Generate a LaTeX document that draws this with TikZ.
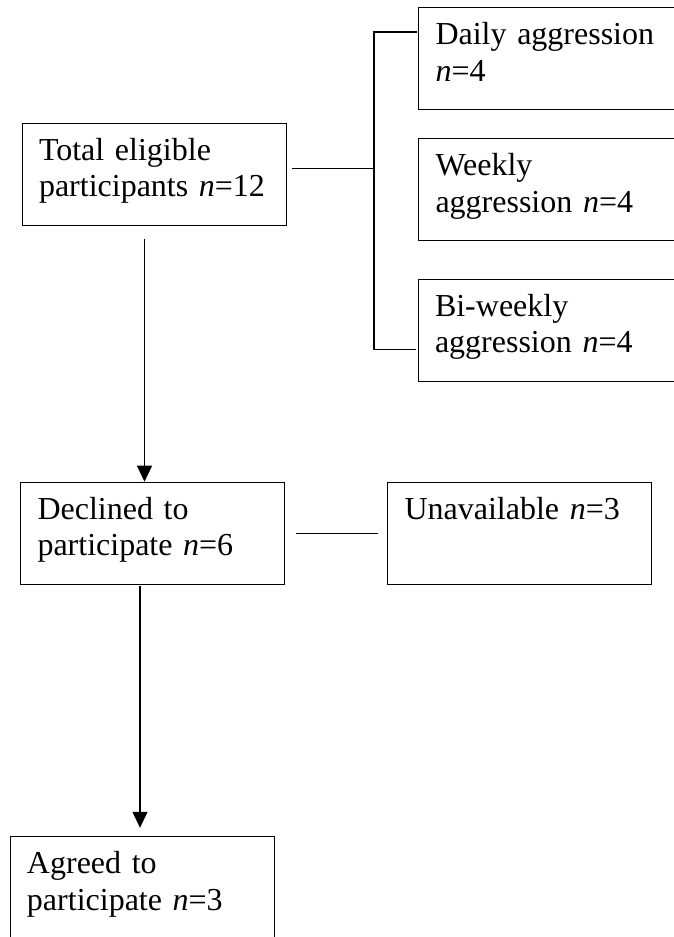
\documentclass[tikz,border=0pt]{standalone}
\usepackage{fontspec}
\setmainfont{Liberation Serif}
\usetikzlibrary{arrows.meta}
\tikzset{
  box/.style={draw, line width=1pt, anchor=north west, text width=230pt,
    align=left, inner xsep=17pt, inner ysep=15pt, text height=22pt,
    text depth=50pt, font=\fontsize{32}{36.7}\selectfont},
  link/.style={line width=1.3pt},
  arrow/.style={link, -{Triangle[length=16pt,width=15pt]}}
}
\begin{document}
\begin{tikzpicture}[x=1pt, y=-1pt]
  \useasboundingbox (0,0) rectangle (674,937);
  \node[box] (total) at (21.5,122.7) {Total eligible\\participants \textit{n}=12};
  \node[box] (daily) at (418,7.3) {Daily aggression\\\textit{n}=4};
  \node[box] (weekly) at (418,138.3) {Weekly\\aggression \textit{n}=4};
  \node[box] (biweekly) at (417.5,278.7) {Bi-weekly\\aggression \textit{n}=4};
  \node[box] (declined) at (20,481.7) {Declined to\\participate \textit{n}=6};
  \node[box] (unavail) at (387,482.3) {Unavailable \textit{n}=3};
  \node[box] (agreed) at (9.5,836.3) {Agreed to\\participate \textit{n}=3};
  \coordinate (fork) at (374,168.3);
  \coordinate (forktop) at (374,32);
  \coordinate (forkbot) at (374,349.3);
  \coordinate (drop1) at (144.5,239.3);
  \coordinate (drop2) at (140,586);
  \draw[link, shorten <=5pt] (total.east |- fork) -- (fork);
  \draw[link, shorten <=1.5pt, shorten >=1.5pt] (daily.west |- forktop) -- (forktop) -- (forkbot) -- (biweekly.west |- forkbot);
  \draw[link, shorten <=10.5pt, shorten >=9pt] (declined.east) -- (declined.east -| unavail.west);
  \draw[arrow] (drop1) -- (drop1 |- declined.north);
  \draw[arrow, shorten >=8.5pt] (drop2) -- (drop2 |- agreed.north);
\end{tikzpicture}
\end{document}
